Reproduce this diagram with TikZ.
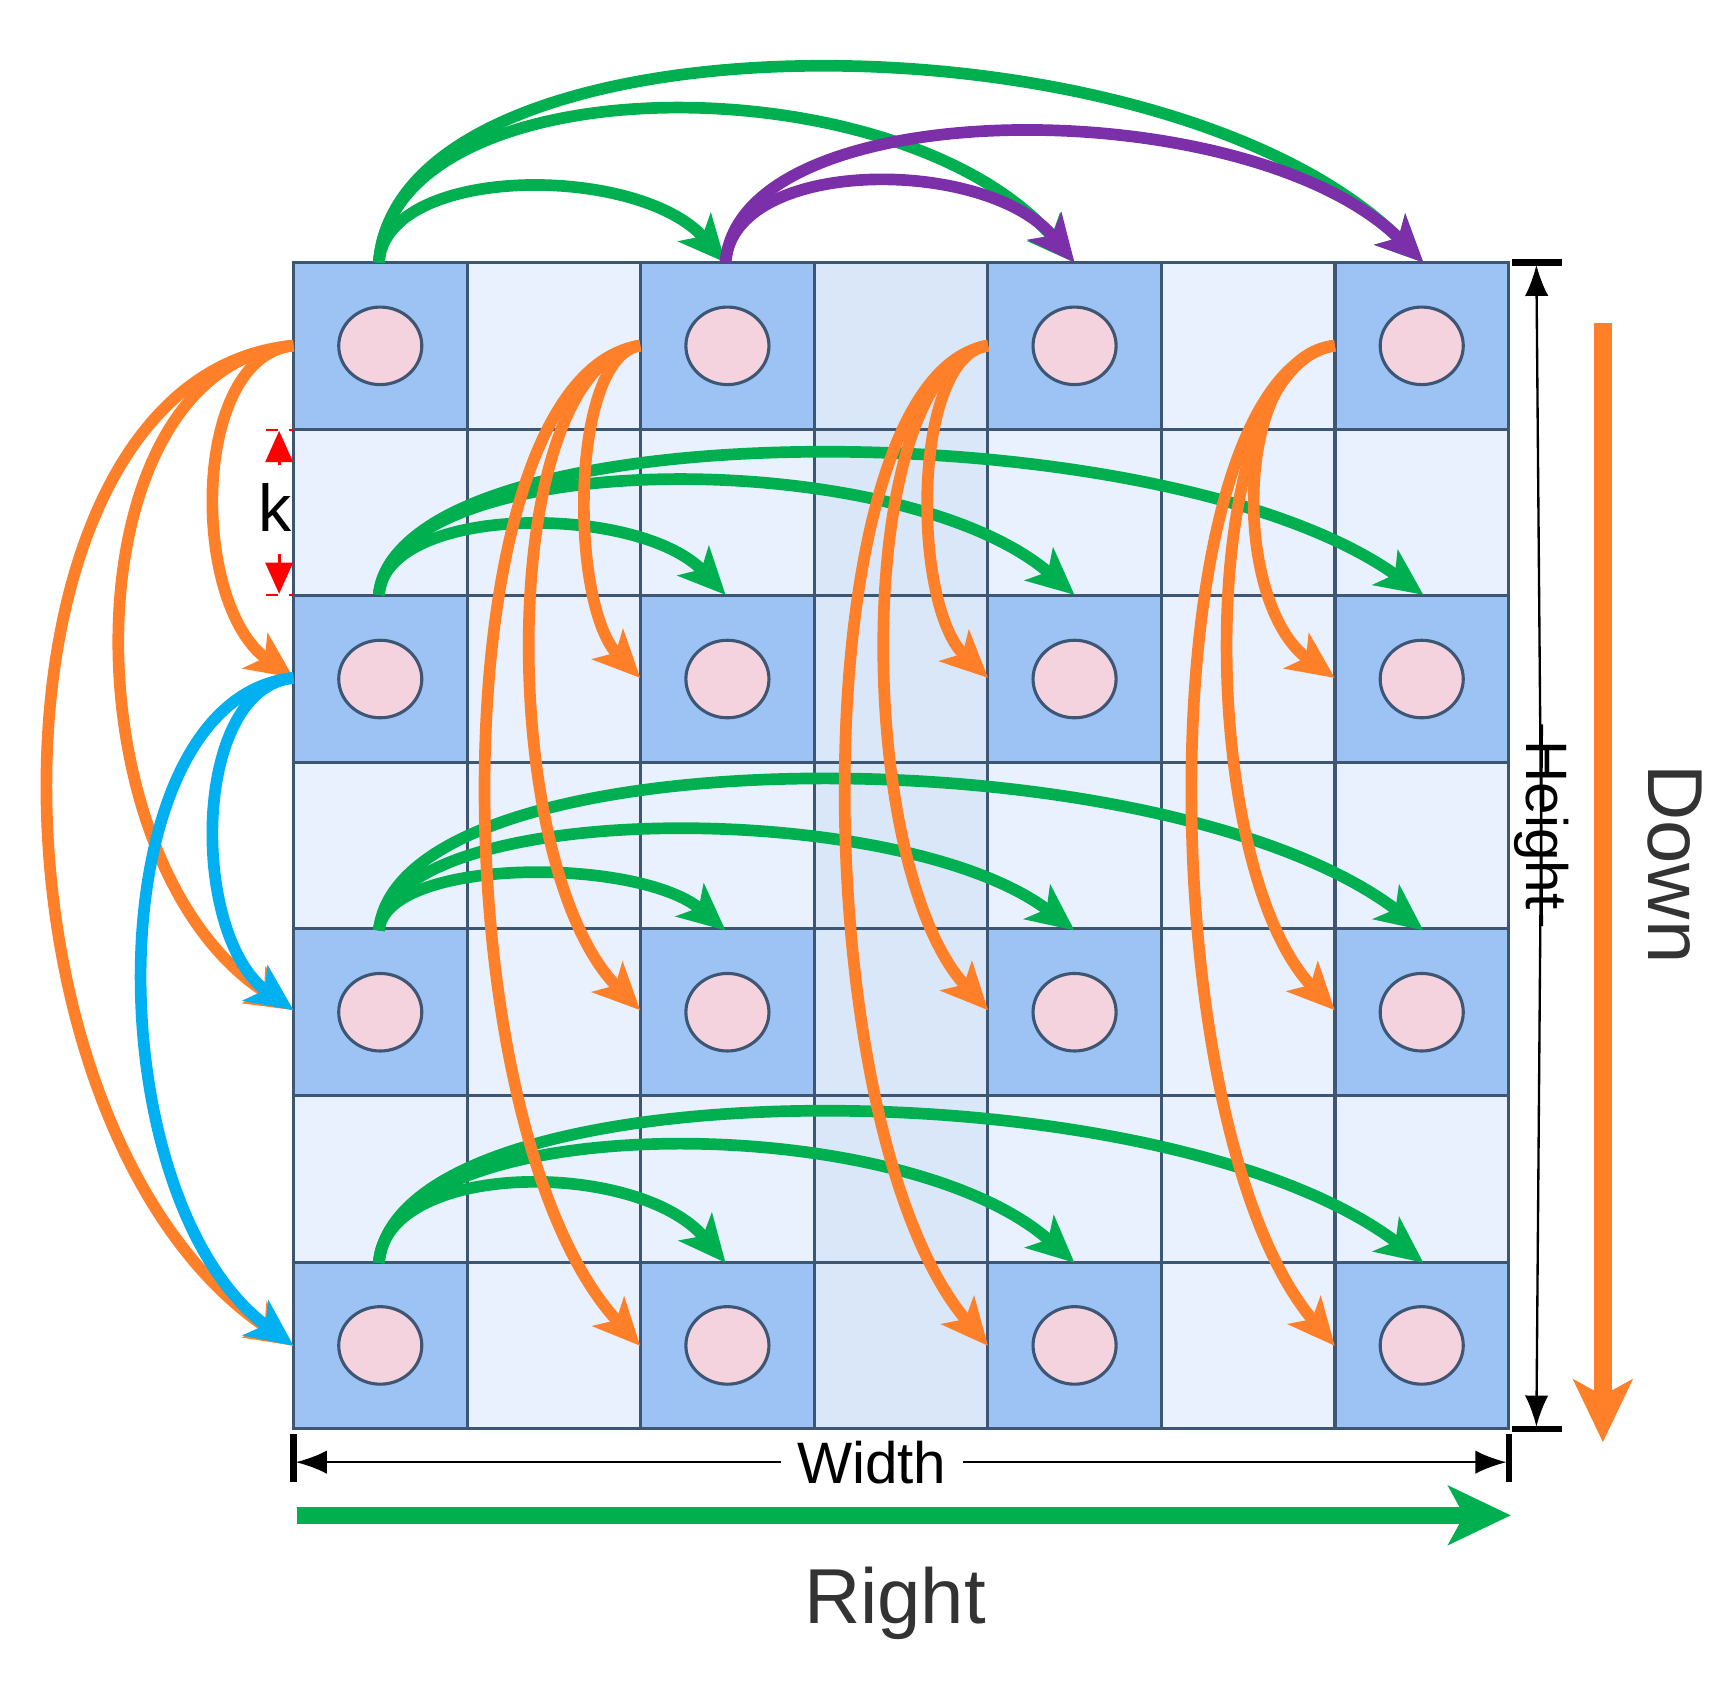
\documentclass[tikz,border=0pt]{standalone}
\usepackage{fontspec}
\setmainfont{Liberation Sans}
\usetikzlibrary{arrows.meta,shapes.geometric}
\definecolor{dcell}{HTML}{9DC3F5}
\definecolor{lcell}{HTML}{E8F1FD}
\definecolor{mcell}{HTML}{D9E7F9}
\definecolor{gline}{HTML}{3D5673}
\definecolor{pinkc}{HTML}{F4D3DF}
\definecolor{garr}{HTML}{00B050}
\definecolor{oarr}{HTML}{FF8028}
\definecolor{parr}{HTML}{7B2FA8}
\definecolor{carr}{HTML}{00B0F0}
\tikzset{
  arr/.style={line width=3pt,-{Stealth[length=12pt,width=11pt,inset=3pt]}},
  cellL/.style={draw=gline,line width=0.8pt,fill=lcell},
  cellD/.style={draw=gline,line width=0.8pt,fill=dcell},
  dot/.style={draw=gline,line width=0.8pt,fill=pinkc,ellipse},
  dim/.style={line width=0.6pt,-{Latex[length=8pt,width=6pt]}},
}
\newcommand\harc[5]{% sx ex y peak color
  \pgfmathsetmacro\cy{(#4-#3/4)*4/3}
  \pgfmathsetmacro\ca{#1+0.02*(#2-#1)}
  \pgfmathsetmacro\cb{#2-0.25*(#2-#1)}
  \draw[arr,#5] (#1,#3) .. controls (\ca,\cy) and (\cb,\cy) .. (#2,#3);}
\newcommand\varc[5]{% x sy ey bulge color
  \pgfmathsetmacro\cx{(#4-#1/4)*4/3}
  \pgfmathsetmacro\ca{#2+0.03*(#3-#2)}
  \pgfmathsetmacro\cb{#3-0.22*(#3-#2)}
  \draw[arr,#5] (#1,#2) .. controls (\cx,\ca) and (\cx,\cb) .. (#1,#3);}
\begin{document}
\begin{tikzpicture}[x=0.01cm,y=-0.01cm]
\useasboundingbox (0,0) rectangle (1560,1517);
% grid
\foreach \c in {0,...,6}{\foreach \r in {0,...,6}{
  \pgfmathsetmacro\xa{265+156.7*\c}\pgfmathsetmacro\ya{237+150.4*\r}
  \pgfmathtruncatemacro\ev{(mod(\c,2)==0)&&(mod(\r,2)==0)}
  \ifnum\ev=1
    \path[cellD] (\xa,\ya) rectangle ++(156.7,150.4);
    \node[dot,minimum width=75*0.01cm,minimum height=70*0.01cm,inner sep=0pt] (d\c\r) at (\xa+78.3,\ya+75.2) {};
  \else
    \ifnum\c=3 \path[cellL,fill=mcell] (\xa,\ya) rectangle ++(156.7,150.4);
    \else \path[cellL] (\xa,\ya) rectangle ++(156.7,150.4);\fi
  \fi
}}
% top row arcs
\harc{342}{655}{237}{170}{garr}
\harc{342}{970}{237}{100}{garr}
\harc{342}{1285}{237}{62}{garr}
\harc{655}{970}{237}{165}{parr}
\harc{655}{1285}{237}{120}{parr}
% green rows
\foreach \y/\a/\b/\cc in {537/475/435/410, 840/790/750/705, 1140/1070/1035/1005}{
  \harc{342}{655}{\y}{\a}{garr}
  \harc{342}{970}{\y}{\b}{garr}
  \harc{342}{1285}{\y}{\cc}{garr}}
% left column
\varc{265}{312}{612}{195}{oarr}
\varc{265}{312}{912}{110}{oarr}
\varc{265}{312}{1215}{45}{oarr}
\varc{265}{612}{912}{195}{carr}
\varc{265}{612}{1215}{130}{carr}
% other columns
\foreach \x/\a/\b/\cc in {578/530/480/440, 892/840/800/765, 1205/1135/1110/1078}{
  \varc{\x}{312}{612}{\a}{oarr}
  \varc{\x}{312}{912}{\b}{oarr}
  \varc{\x}{312}{1215}{\cc}{oarr}}
% k marker
\draw[red,dashed,line width=0.5pt] (240,388)--(265,388) (240,537)--(265,537);
\draw[red,line width=0.7pt,-{Triangle[length=8pt,width=7pt]}] (252,420)--(252,389);
\draw[red,line width=0.7pt,-{Triangle[length=8pt,width=7pt]}] (252,500)--(252,536);
\node[font=\fontsize{17}{17}\selectfont] (k) at (248,458) {k};
% height
\draw[line width=1.6pt] (1365,237)--(1410,237) (1365,1290)--(1410,1290);
\node[rotate=-90,font=\fontsize{15}{15}\selectfont,inner sep=4pt] (h) at (1392,745) {Height};
\draw[dim] (h.east)--(1387,239);
\draw[dim] (h.west)--(1387,1288);
% width
\draw[line width=1.6pt] (265,1295)--(265,1338) (1362,1295)--(1362,1338);
\node[font=\fontsize{15}{15}\selectfont,inner sep=4pt] (w) at (787,1320) {Width};
\draw[dim] (w.west)--(267,1320);
\draw[dim] (w.east)--(1360,1320);
% right / down
\coordinate (r0) at (268,1368); \coordinate (r1) at (1364,1368);
\draw[garr,line width=4.5pt,-{Stealth[length=16pt,width=15pt,inset=4pt]}] (r0)--(r1);
\node[font=\fontsize{20}{20}\selectfont,text=black!80] (right) at (808,1447) {Right};
\coordinate (d0) at (1447,292); \coordinate (d1) at (1447,1302);
\draw[oarr,line width=4.5pt,-{Stealth[length=16pt,width=15pt,inset=4pt]}] (d0)--(d1);
\node[rotate=-90,font=\fontsize{20}{20}\selectfont,text=black!80] (down) at (1512,780) {Down};
\end{tikzpicture}
\end{document}
